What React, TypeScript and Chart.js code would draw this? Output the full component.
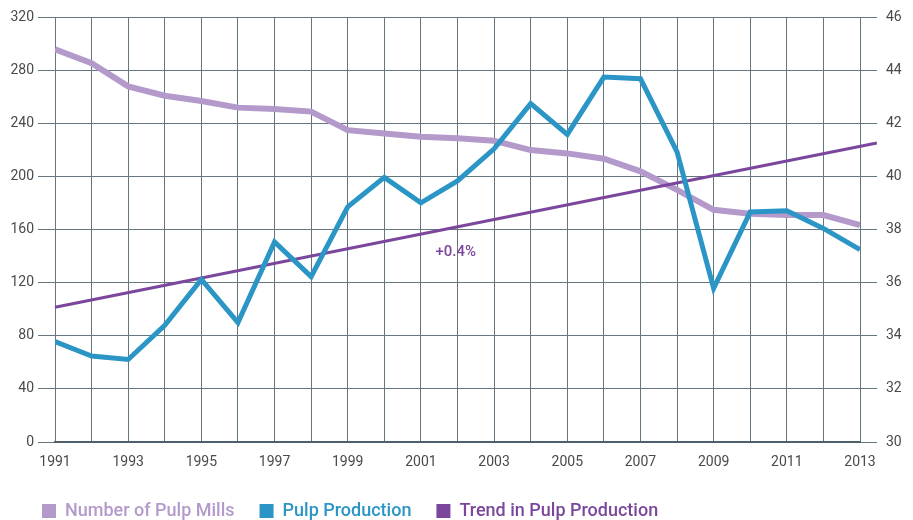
import React, { useEffect, useRef } from "react";
import { Chart, registerables } from "chart.js";

Chart.register(...registerables);

const years = [1991, 1992, 1993, 1994, 1995, 1996, 1997, 1998, 1999, 2000, 2001, 2002, 2003, 2004, 2005, 2006, 2007, 2008, 2009, 2010, 2011, 2012, 2013];
const pulpMills = [296, 285.5, 268, 261, 257, 252, 251, 249, 235, 232.5, 230, 229, 227, 220, 217.5, 213.5, 204, 190, 175, 172, 171, 171, 163.5];
const pulpProduction = [33.78, 33.24, 33.11, 34.4, 36.13, 34.5, 37.54, 36.23, 38.86, 39.97, 39.01, 39.84, 41.05, 42.75, 41.59, 43.75, 43.69, 40.93, 35.79, 38.67, 38.71, 38.05, 37.25];
const trendYears = [1991, 2013.46];
const trendValues = [35.08, 41.27];
const trendLabel = "+0.4%";
const trendLabelPos = { x: 2001.95, y: 37.15 };

const leftTicks = [0, 40, 80, 120, 160, 200, 240, 280, 320];
const rightTicks = [30, 32, 34, 36, 38, 40, 42, 44, 46];

const COL_MILLS = "#b39acb";
const COL_PROD = "#2b95c5";
const COL_TREND = "#7b479c";
const GRID = "#66767f";
const TICK_COLOR = "#4a4a4a";
const TICK_FONT = { family: "Roboto, sans-serif", size: 14 };

export default function App() {
  const ref = useRef<HTMLCanvasElement | null>(null);

  useEffect(() => {
    if (!ref.current) return;
    const annotate = {
      id: "trendLabel",
      afterLayout(chart: any) {
        if (chart.legend) {
          chart.legend.left = 17;
        }
      },
      afterDatasetsDraw(chart: any) {
        const { ctx, scales } = chart;
        const x = scales.x.getPixelForValue(trendLabelPos.x);
        const y = scales.y1.getPixelForValue(trendLabelPos.y);
        ctx.save();
        ctx.fillStyle = COL_TREND;
        ctx.font = "500 15px Roboto, sans-serif";
        ctx.textAlign = "center";
        ctx.textBaseline = "middle";
        ctx.fillText(trendLabel, x, y);
        ctx.restore();
      },
    };

    const chart = new Chart(ref.current, {
      type: "line",
      data: {
        datasets: [
          {
            label: "Number of Pulp Mills",
            data: years.map((y, i) => ({ x: y, y: pulpMills[i] })),
            borderColor: COL_MILLS,
            backgroundColor: COL_MILLS,
            borderWidth: 6,
            pointRadius: 0,
            yAxisID: "y",
            order: 3,
          },
          {
            label: "Pulp Production",
            data: years.map((y, i) => ({ x: y, y: pulpProduction[i] })),
            borderColor: COL_PROD,
            backgroundColor: COL_PROD,
            borderWidth: 5,
            pointRadius: 0,
            yAxisID: "y1",
            order: 1,
          },
          {
            label: "Trend in Pulp Production",
            data: trendYears.map((y, i) => ({ x: y, y: trendValues[i] })),
            borderColor: COL_TREND,
            backgroundColor: COL_TREND,
            borderWidth: 3,
            pointRadius: 0,
            yAxisID: "y1",
            clip: false,
            order: 2,
          } as any,
        ],
      },
      options: {
        animation: false,
        responsive: false,
        maintainAspectRatio: false,
        layout: { padding: { left: 0, right: 0, top: 17, bottom: 0 } },
        plugins: {
          tooltip: { enabled: false },
          legend: {
            position: "bottom",
            align: "start",
            maxHeight: 18 + 25,
            labels: {
              boxWidth: 14,
              boxHeight: 14,
              padding: 25,
              font: { family: "Roboto, sans-serif", size: 18, weight: "500" },
              generateLabels: (chart: any) =>
                chart.data.datasets.map((ds: any, i: number) => ({
                  text: ds.label,
                  fillStyle: ds.borderColor,
                  strokeStyle: ds.borderColor,
                  lineWidth: 0,
                  fontColor: ds.borderColor,
                  hidden: false,
                  datasetIndex: i,
                })),
            },
          },
        },
        scales: {
          x: {
            type: "linear",
            min: 1991,
            max: 2013,
            afterBuildTicks: (scale: any) => {
              scale.ticks = years.map((v) => ({ value: v }));
            },
            afterFit: (scale: any) => {
              scale.height = 35;
            },
            ticks: {
              autoSkip: false,
              maxRotation: 0,
              padding: 12,
              color: TICK_COLOR,
              font: TICK_FONT,
              callback: (v: any) => (Number(v) % 2 === 1 ? String(v) : ""),
            },
            grid: { color: GRID, lineWidth: 1, drawTicks: false },
            border: { display: true, color: "#4f5f6c", width: 2 },
          },
          y: {
            position: "left",
            min: 0,
            max: 320,
            afterBuildTicks: (scale: any) => {
              scale.ticks = leftTicks.map((v) => ({ value: v }));
            },
            afterFit: (scale: any) => {
              scale.width = 55;
            },
            ticks: { padding: 4, color: TICK_COLOR, font: TICK_FONT },
            grid: { color: GRID, lineWidth: 1, tickLength: 17 },
            border: { display: false },
          },
          y1: {
            position: "right",
            min: 30,
            max: 46,
            afterBuildTicks: (scale: any) => {
              scale.ticks = rightTicks.map((v) => ({ value: v }));
            },
            afterFit: (scale: any) => {
              scale.width = 53;
            },
            ticks: { padding: 9, color: TICK_COLOR, font: TICK_FONT },
            grid: { color: GRID, lineWidth: 1, tickLength: 17, drawOnChartArea: false },
            border: { display: false },
          },
        },
      } as any,
      plugins: [annotate],
    });
    return () => chart.destroy();
  }, []);

  return (
    <div style={{ position: "fixed", left: 0, top: 0, width: 913, height: 520, background: "#fff" }}>
      <canvas ref={ref} width={913} height={520} style={{ width: 913, height: 520 }} />
    </div>
  );
}
